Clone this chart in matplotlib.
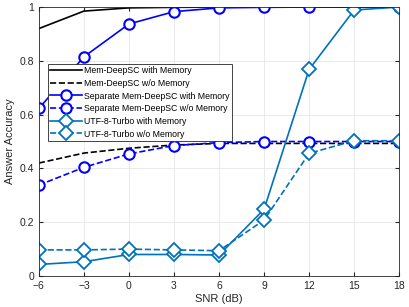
import numpy as np
import matplotlib.pyplot as plt

plt.rcParams['font.family'] = ['Liberation Sans', 'DejaVu Sans']

snr = [-6, -3, 0, 3, 6, 9, 12, 15, 18]

# Mem-DeepSC
mem_with = [0.92, 0.985, 0.997, 0.999, 1.0, 1.0, 1.0, 1.0, 1.0]
mem_wo = [0.42, 0.457, 0.475, 0.487, 0.493, 0.493, 0.493, 0.493, 0.493]

# Separate Mem-DeepSC
sep_with = [0.623, 0.815, 0.937, 0.983, 0.997, 0.999, 1.0, 1.0, 1.0]
sep_wo = [0.338, 0.404, 0.454, 0.485, 0.496, 0.5, 0.5, 0.5, 0.5]

# UTF-8-Turbo
utf_with = [0.043, 0.053, 0.08, 0.08, 0.078, 0.248, 0.768, 0.989, 1.0]
utf_wo = [0.097, 0.097, 0.1, 0.097, 0.094, 0.208, 0.456, 0.503, 0.503]

blue = '#0000FF'
mblue = '#0072BD'

fig = plt.figure(figsize=(4.09, 3.07), dpi=100)
ax = fig.add_axes([0.095, 0.101, 0.881, 0.876])

ax.plot(snr, mem_with, '-', color='k', lw=1.2, label='Mem-DeepSC with Memory')
ax.plot(snr, mem_wo, '--', color='k', lw=1.2, label='Mem-DeepSC w/o Memory')
ax.plot(snr, sep_with, '-o', color=blue, lw=1.2, ms=7.5, mfc='white', mew=1.5,
        label='Separate Mem-DeepSC with Memory')
ax.plot(snr, sep_wo, '--o', color=blue, lw=1.2, ms=7.5, mfc='white', mew=1.5,
        label='Separate Mem-DeepSC w/o Memory')
ax.plot(snr, utf_with, '-D', color=mblue, lw=1.2, ms=7, mfc='white', mew=1.3,
        label='UTF-8-Turbo with Memory')
ax.plot(snr, utf_wo, '--D', color=mblue, lw=1.2, ms=7, mfc='white', mew=1.3,
        label='UTF-8-Turbo w/o Memory')

ax.set_xlim(-6, 18)
ax.set_ylim(0, 1)
ax.set_xticks(snr)
ax.set_yticks([0, 0.2, 0.4, 0.6, 0.8, 1])
ax.set_yticklabels(['0', '0.2', '0.4', '0.6', '0.8', '1'])
ax.tick_params(direction='in', top=True, right=True, labelsize=7.5, colors='#262626', length=3)
ax.grid(True, color='#e6e6e6', lw=0.6)
ax.set_axisbelow(True)
for s in ax.spines.values():
    s.set_color('#262626')
    s.set_linewidth(0.6)

ax.set_xlabel('SNR (dB)', fontsize=8, color='#262626', labelpad=2)
ax.set_ylabel('Answer Accuracy', fontsize=8, color='#262626', labelpad=3)

leg = ax.legend(loc='upper left', bbox_to_anchor=(0.024, 0.79), fontsize=6.3,
                handlelength=3.6, handletextpad=0.3, labelspacing=0.42,
                borderpad=0.3, borderaxespad=0, fancybox=False, framealpha=1)
leg.get_frame().set_edgecolor('#262626')
leg.get_frame().set_linewidth(0.6)

fig.savefig('out.png', dpi=100)
